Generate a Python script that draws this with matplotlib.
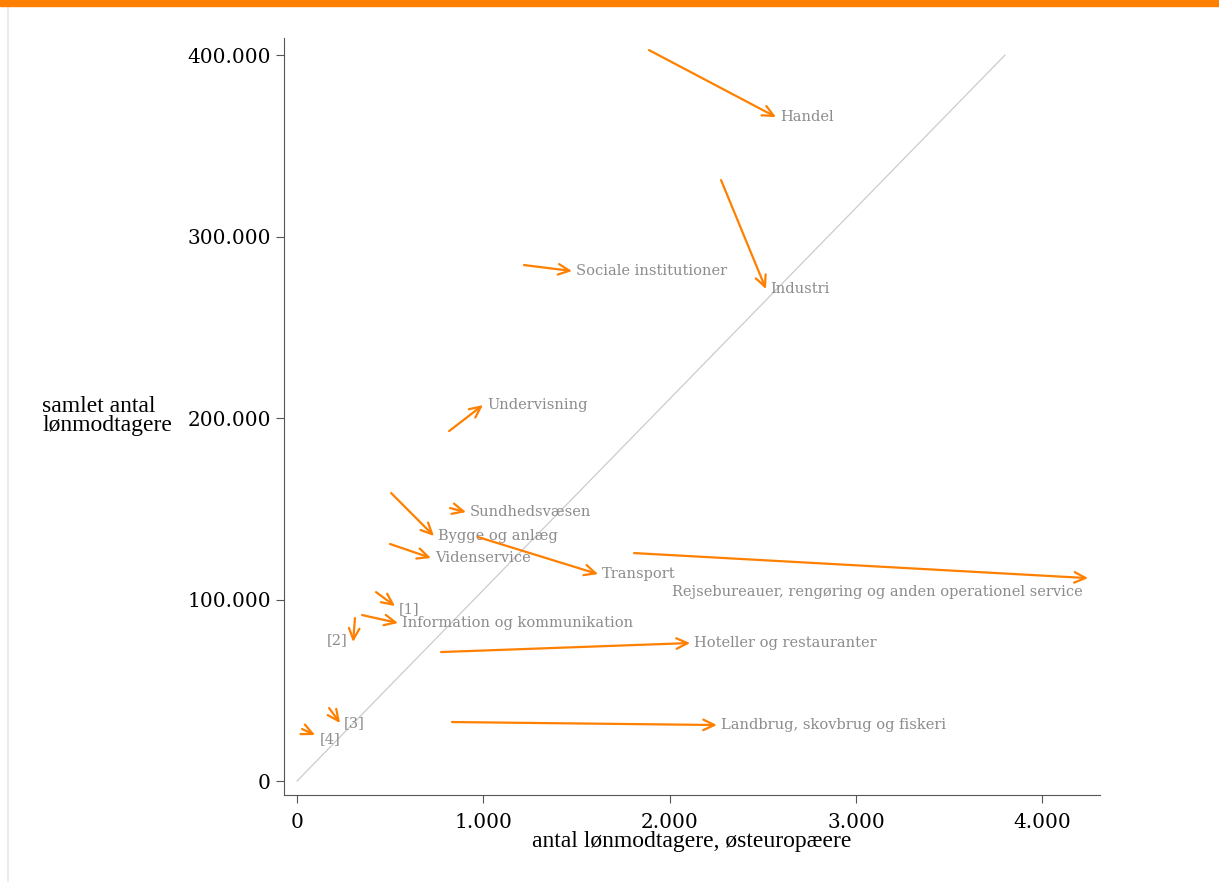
import matplotlib.pyplot as plt
from matplotlib.patches import Rectangle
from matplotlib.lines import Line2D
from matplotlib.ticker import FuncFormatter

# branche: (start x, start y) -> (slut x, slut y)
labels = ['Handel', 'Industri', 'Sociale institutioner', 'Undervisning',
          'Sundhedsvæsen', 'Bygge og anlæg', 'Videnservice', 'Transport',
          'Rejsebureauer, rengøring og anden operationel service',
          '[1]', 'Information og kommunikation', '[2]',
          'Hoteller og restauranter', 'Landbrug, skovbrug og fiskeri',
          '[3]', '[4]']
x_start = [1889, 2276, 1218, 816, 821, 505, 499, 972, 1809, 424, 349, 311, 773, 832, 172, 27]
y_start = [402750, 331100, 284300, 192800, 150400, 158700, 130600, 134400, 125600,
           104100, 91460, 89800, 71070, 32500, 40200, 28650]
x_end = [2571, 2517, 1476, 998, 907, 735, 719, 1616, 4246, 526, 542, 301, 2110, 2254, 231, 97]
y_end = [365840, 271070, 281000, 207160, 148200, 135000, 122900, 114000, 111800,
         96400, 87050, 76600, 76030, 30850, 31960, 25340]

# label placement (pixel offset from arrow end, horizontal alignment)
label_pos = {
    'Rejsebureauer, rengøring og anden operationel service': (-4, -10, 'right'),
    '[2]': (-4, 1, 'right'),
    '[4]': (3, -3, 'left'),
    '[1]': (3, -2, 'left'),
}

orange = '#ff8000'
grey = '#8c8c8c'

fig = plt.figure(figsize=(12.19, 8.82), dpi=100, facecolor='w')
fig.patches.append(Rectangle((0, 1 - 6 / 882), 1, 6 / 882, transform=fig.transFigure,
                             color=orange, zorder=10))
fig.lines.append(Line2D([7.5 / 1219, 7.5 / 1219], [0, 1 - 6 / 882], transform=fig.transFigure,
                        color='#e8e8e8', lw=1.2))
ax = fig.add_axes([284 / 1219, 1 - 795 / 882, (1100 - 284) / 1219, (795 - 38) / 882])

ax.plot([0, 3800], [0, 400000], color='#cccccc', lw=0.9, zorder=1)

for i, name in enumerate(labels):
    ax.annotate('', xy=(x_end[i], y_end[i]), xytext=(x_start[i], y_start[i]),
                arrowprops=dict(arrowstyle='->,head_length=0.8,head_width=0.38',
                                color=orange, lw=1.6, shrinkA=0, shrinkB=0))
    dx, dy, ha = label_pos.get(name, (3, 0, 'left'))
    ax.annotate(name, xy=(x_end[i], y_end[i]), xytext=(dx, dy),
                textcoords='offset points', ha=ha, va='center',
                color=grey, fontsize=10.5, family='DejaVu Serif')

ax.set_xlim(-70, 4310)
ax.set_ylim(-7700, 409400)
ax.set_xticks([0, 1000, 2000, 3000, 4000])
ax.set_yticks([0, 100000, 200000, 300000, 400000])
fmt = FuncFormatter(lambda v, p: f'{int(v):,}'.replace(',', '.'))
ax.xaxis.set_major_formatter(fmt)
ax.yaxis.set_major_formatter(fmt)
for s in ['top', 'right']:
    ax.spines[s].set_visible(False)
for s in ['left', 'bottom']:
    ax.spines[s].set_color('#555555')
ax.tick_params(colors='#555555', labelcolor='black', length=6, width=0.8, labelsize=14.5)
ax.tick_params(axis='x', pad=7)
for t in ax.get_xticklabels() + ax.get_yticklabels():
    t.set_family('DejaVu Serif')

ax.set_xlabel('antal lønmodtagere, østeuropæere', family='Liberation Serif',
              fontsize=17, labelpad=-1)
fig.text(42 / 1219, 1 - 416 / 882, 'samlet antal\nlønmodtagere', family='Liberation Serif',
         fontsize=17, ha='left', va='center', linespacing=0.9)

plt.savefig('out.png', dpi=100)
